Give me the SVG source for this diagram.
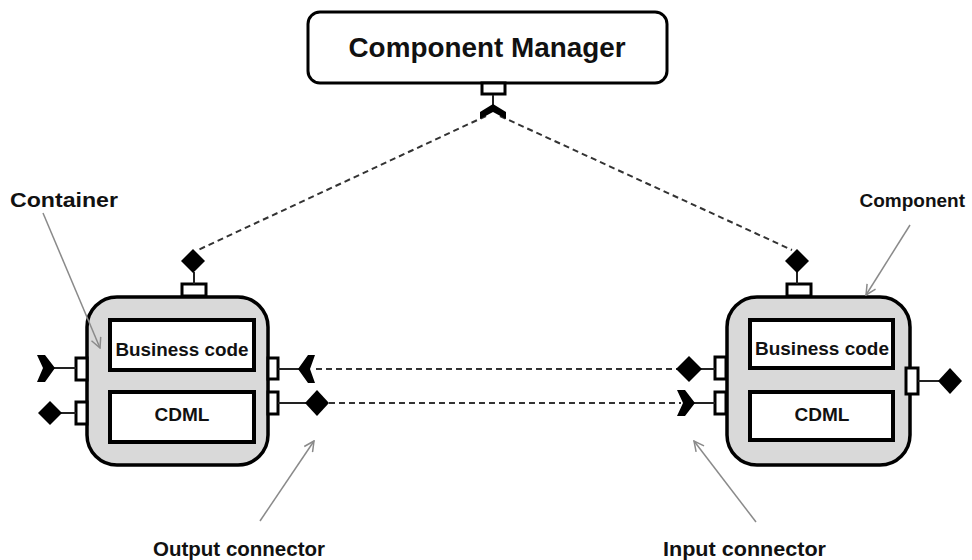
<svg xmlns="http://www.w3.org/2000/svg" width="972" height="560" viewBox="0 0 972 560">
<defs>
<style>
.box{fill:#fff;stroke:#000;stroke-width:3}
.cont{fill:#d9d9d9;stroke:#000;stroke-width:3.5}
.inner{fill:#fff;stroke:#000;stroke-width:4}
.port{fill:#fff;stroke:#000;stroke-width:3}
.wire{stroke:#222;stroke-width:2;fill:none}
.dash{stroke:#333;stroke-width:2;stroke-dasharray:6 4;fill:none}
.sym{fill:#000}
.ptr{stroke:#8a8a8a;stroke-width:1.5;fill:none}
.t{font-family:"Liberation Sans",Arial,sans-serif;font-weight:bold;fill:#111}
</style>
<marker id="open" viewBox="0 0 12 12" refX="11" refY="6" markerWidth="12" markerHeight="12" markerUnits="userSpaceOnUse" orient="auto">
<path d="M1,1 L11,6 L1,11" fill="none" stroke="#8a8a8a" stroke-width="1.5"/>
</marker>
</defs>
<rect width="972" height="560" fill="#fff"/>

<g id="connectors">
<line class="dash" x1="486" y1="116" x2="198" y2="250"/>
<line class="dash" x1="500" y1="116" x2="792" y2="250"/>
<line class="dash" x1="316" y1="369" x2="677" y2="369"/>
<line class="dash" x1="329" y1="403" x2="681" y2="403"/>
</g>

<g id="component-manager">
<rect class="box" x="308" y="12" width="359" height="71" rx="12"/>
<text class="t" x="487" y="57" font-size="27" text-anchor="middle" textLength="277" lengthAdjust="spacingAndGlyphs">Component Manager</text>
<rect class="port" x="482" y="83" width="23" height="11"/>
<line class="wire" x1="493" y1="95" x2="493" y2="106"/>
<polygon class="sym" points="493,104 506,112 506,119 493,112 480,119 480,112"/>
</g>

<g id="container">
<rect class="cont" x="87" y="297" width="181" height="168" rx="30"/>
<rect class="inner" x="110" y="320" width="144" height="50"/>
<rect class="inner" x="110" y="392" width="144" height="50"/>
<text class="t" x="182" y="356" font-size="18" text-anchor="middle" textLength="133" lengthAdjust="spacingAndGlyphs">Business code</text>
<text class="t" x="182" y="421" font-size="18" text-anchor="middle" textLength="55" lengthAdjust="spacingAndGlyphs">CDML</text>
<rect class="port" x="182" y="284" width="24" height="12"/>
<line class="wire" x1="194" y1="272" x2="194" y2="284"/>
<polygon class="sym" points="193,249 205,261 193,273 181,261"/>
<rect class="port" x="76" y="358" width="11" height="22"/>
<line class="wire" x1="54" y1="368" x2="76" y2="368"/>
<polygon class="sym" points="37,355 45,355 55,368 45,382 37,382 43,368"/>
<rect class="port" x="76" y="402" width="11" height="22"/>
<line class="wire" x1="60" y1="413" x2="76" y2="413"/>
<polygon class="sym" points="50,401 62,413 50,425 38,413"/>
<rect class="port" x="268" y="358" width="10" height="21"/>
<line class="wire" x1="278" y1="369" x2="299" y2="369"/>
<polygon class="sym" points="298,369 308,355 315,355 310,369 315,383 308,383"/>
<rect class="port" x="268" y="392" width="10" height="22"/>
<line class="wire" x1="278" y1="403" x2="306" y2="403"/>
<polygon class="sym" points="317,390 329,403 317,416 305,403"/>
</g>

<g id="component">
<rect class="cont" x="727" y="297" width="183" height="168" rx="30"/>
<rect class="inner" x="750" y="320" width="143" height="48"/>
<rect class="inner" x="750" y="392" width="143" height="48"/>
<text class="t" x="822" y="355" font-size="18" text-anchor="middle" textLength="134" lengthAdjust="spacingAndGlyphs">Business code</text>
<text class="t" x="822" y="421" font-size="18" text-anchor="middle" textLength="55" lengthAdjust="spacingAndGlyphs">CDML</text>
<rect class="port" x="787" y="284" width="24" height="12"/>
<line class="wire" x1="797" y1="272" x2="797" y2="284"/>
<polygon class="sym" points="797,249 809,261 797,273 785,261"/>
<rect class="port" x="715" y="357" width="11" height="22"/>
<line class="wire" x1="700" y1="369" x2="715" y2="369"/>
<polygon class="sym" points="689,356 702,369 689,382 676,369"/>
<rect class="port" x="715" y="392" width="11" height="22"/>
<line class="wire" x1="694" y1="403" x2="715" y2="403"/>
<polygon class="sym" points="677,390 685,390 695,403 685,416 677,416 683,403"/>
<rect class="port" x="906" y="368" width="12" height="26"/>
<line class="wire" x1="918" y1="381" x2="939" y2="381"/>
<polygon class="sym" points="950,368 962,381 950,394 938,381"/>
</g>

<g id="labels">
<text class="t" x="10" y="207" font-size="21" textLength="108" lengthAdjust="spacingAndGlyphs">Container</text>
<line class="ptr" x1="43" y1="213" x2="100" y2="348" marker-end="url(#open)"/>
<text class="t" x="965" y="207" font-size="19" text-anchor="end">Component</text>
<line class="ptr" x1="910" y1="225" x2="866" y2="295" marker-end="url(#open)"/>
<text class="t" x="153" y="556" font-size="21" textLength="172" lengthAdjust="spacingAndGlyphs">Output connector</text>
<line class="ptr" x1="260" y1="521" x2="314" y2="441" marker-end="url(#open)"/>
<text class="t" x="663" y="556" font-size="21" textLength="163" lengthAdjust="spacingAndGlyphs">Input connector</text>
<line class="ptr" x1="756" y1="522" x2="694" y2="441" marker-end="url(#open)"/>
</g>
</svg>
